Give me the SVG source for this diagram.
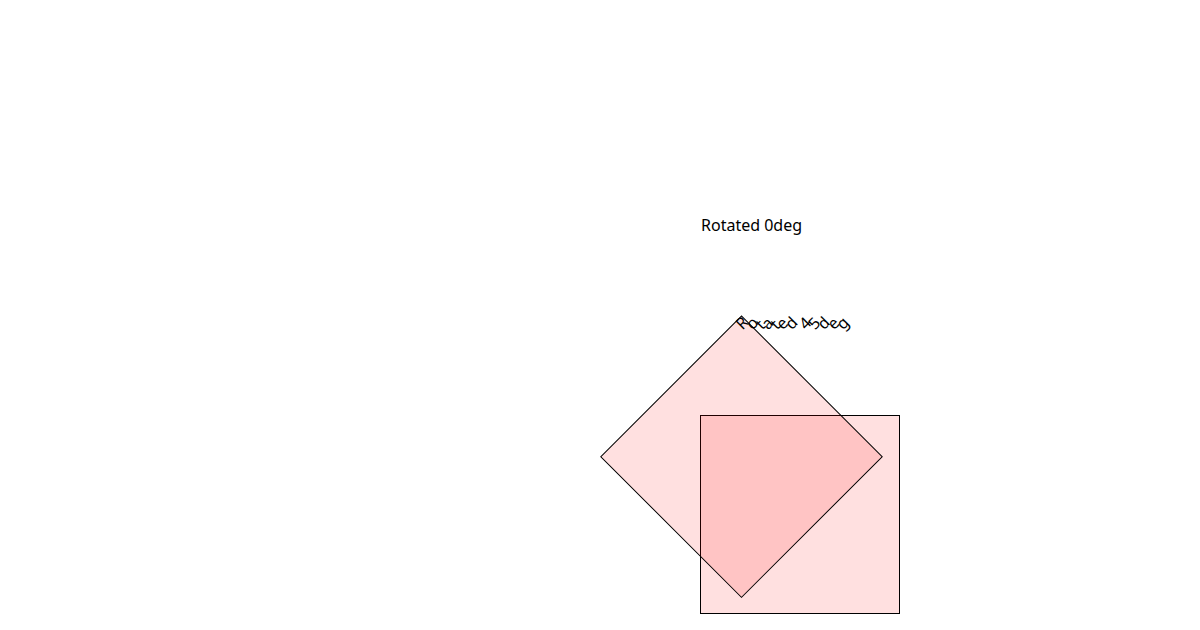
<svg xmlns="http://www.w3.org/2000/svg" width="1200" height="630" viewBox="0 0 1200 630">
<style>
.box{fill:#ff0000;fill-opacity:0.12;stroke:#000;stroke-width:1}
.lbl{font-family:"Noto Sans","Open Sans",sans-serif;font-size:16px;fill:#000}
</style>
<rect width="1200" height="630" fill="#fff"/>
<g id="square0">
<rect class="box" x="700.5" y="415.5" width="199" height="198"/>
<text class="lbl" x="701" y="231">Rotated 0deg</text>
</g>
<g id="square45">
<rect class="box" x="642" y="357.2" width="199" height="199" transform="rotate(45 741.5 456.7)"/>
<text class="lbl" x="742.5" y="330.5" rotate="-45">Rotated 45deg</text>
</g>
<g id="connectors"/>
</svg>
